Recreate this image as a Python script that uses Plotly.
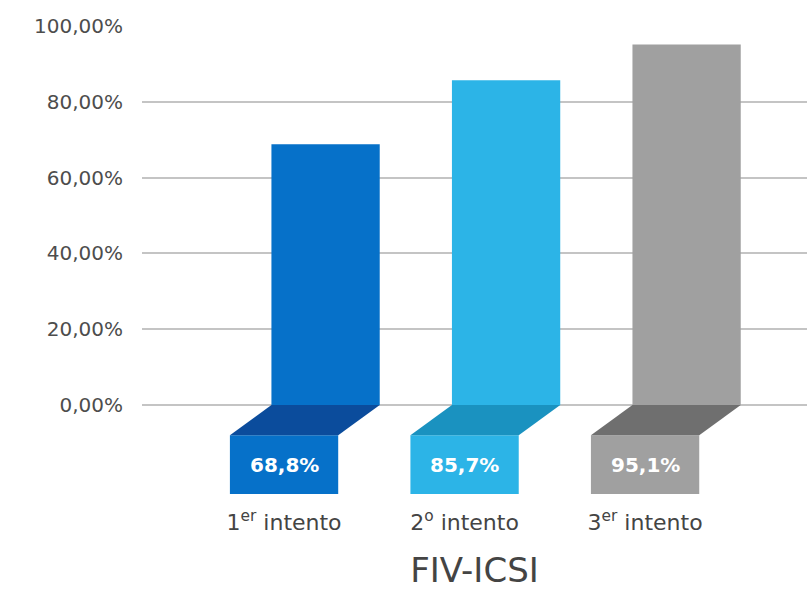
import plotly.graph_objects as go

# Data
categories = ["1<sup>er</sup> intento", "2<sup>o</sup> intento", "3<sup>er</sup> intento"]
values = [68.8, 85.7, 95.1]
value_labels = ["68,8%", "85,7%", "95,1%"]
bar_colors = ["#0671C9", "#2CB4E7", "#A0A0A0"]
fold_colors = ["#0B4C9C", "#1A92C0", "#6F6F6F"]
tick_vals = [0, 20, 40, 60, 80, 100]
tick_text = ["0,00%", "20,00%", "40,00%", "60,00%", "80,00%", "100,00%"]

# Geometry of the folded "ribbon" below the baseline
bar_width = 0.60
shift = 0.23          # horizontal offset of the lower tab
fold_depth = 8        # depth (in y units) of the slanted fold
tab_bottom = -23.5    # bottom of the label tab

FONT = "DejaVu Sans"

xs = list(range(len(values)))
tab_xs = [x - shift for x in xs]

fig = go.Figure()

# Upright bars
fig.add_trace(go.Bar(
    x=xs, y=values, width=bar_width,
    marker=dict(color=bar_colors, line=dict(width=0)),
    hoverinfo="skip", showlegend=False,
))

# Slanted folds
for x, c in zip(xs, fold_colors):
    l, r = x - bar_width / 2, x + bar_width / 2
    fig.add_trace(go.Scatter(
        x=[l, r, r - shift, l - shift, l],
        y=[0, 0, -fold_depth, -fold_depth, 0],
        fill="toself", fillcolor=c, mode="none",
        hoverinfo="skip", showlegend=False,
    ))

# Label tabs
fig.add_trace(go.Bar(
    x=tab_xs, y=[-fold_depth - tab_bottom] * len(xs),
    base=[tab_bottom] * len(xs), width=bar_width,
    marker=dict(color=bar_colors, line=dict(width=0)),
    hoverinfo="skip", showlegend=False,
))

# Value labels on the tabs
for tx, lab in zip(tab_xs, value_labels):
    fig.add_annotation(
        x=tx, y=(tab_bottom - fold_depth) / 2, text=lab, showarrow=False,
        font=dict(family=FONT, size=20, color="white", weight=700),
    )

fig.update_layout(
    width=807, height=590,
    margin=dict(l=142, r=0, t=26, b=94),
    plot_bgcolor="white", paper_bgcolor="white",
    barmode="overlay",
    font=dict(family=FONT, color="#4a4a4a"),
    xaxis=dict(
        range=[-1.017, 2.667], tickvals=tab_xs, ticktext=categories,
        showgrid=False, zeroline=False, showline=False, ticks="",
        tickfont=dict(family=FONT, size=22, color="#444444"),
        ticklabelstandoff=11,
        title=dict(text="FIV-ICSI", font=dict(family=FONT, size=34, color="#444444"),
                   standoff=30),
    ),
    yaxis=dict(
        range=[-24, 100], tickvals=tick_vals, ticktext=tick_text,
        showgrid=True, gridcolor="#c4c4c4", gridwidth=1.5,
        zeroline=False, showline=False, ticks="",
        tickfont=dict(family=FONT, size=20, color="#4d4d4d"),
        ticklabelstandoff=18,
    ),
)

fig.write_html("out.html")
